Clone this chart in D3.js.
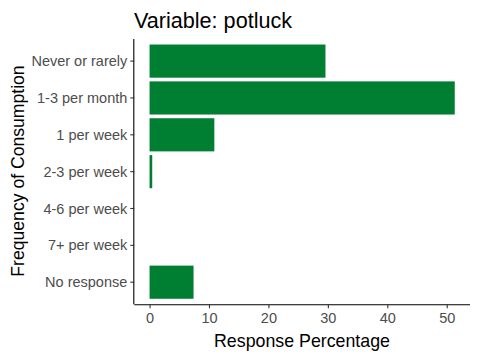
<!DOCTYPE html>
<html><head><meta charset="utf-8">
<script src="https://cdn.jsdelivr.net/npm/d3@7"></script>
<style>body{margin:0;background:#fff}svg{display:block}</style>
</head><body>
<svg id="c" width="480" height="360"></svg>
<script>
const categories = ["Never or rarely","1-3 per month","1 per week","2-3 per week","4-6 per week","7+ per week","No response"];
const values = [29.6, 51.35, 10.9, 0.45, 0, 0, 7.4];
const xTicks = [0, 10, 20, 30, 40, 50];
const title = "Variable: potluck";

(function () {
const svg = d3.select("#c");
const font = "Liberation Sans, Arial, sans-serif";
const pL = 134.3, pR = 470, pT = 39, pB = 304.3;

const maxV = d3.max(values);
const pad = maxV * 0.05;
const x = d3.scaleLinear().domain([0 - pad, maxV + pad]).range([pL, pR]);
const n = categories.length;
const step = (pB - pT) / (n - 1 + 1.2);
const y = d3.scaleBand().domain(categories)
  .range([pT + 0.1 * step, pB - 0.1 * step])
  .paddingInner(0.1).paddingOuter(0.05);

svg.append("g").selectAll("rect").data(categories).join("rect")
  .attr("x", x(0)).attr("y", d => y(d))
  .attr("width", (d, i) => x(values[i]) - x(0))
  .attr("height", y.bandwidth())
  .attr("fill", "#007F32");

const gx = svg.append("g").attr("transform", `translate(0,${pB})`)
  .call(d3.axisBottom(x).tickValues(xTicks).tickSize(4).tickPadding(3).tickSizeOuter(0));
const gy = svg.append("g").attr("transform", `translate(${pL},0)`)
  .call(d3.axisLeft(y).tickSize(4).tickPadding(3).tickSizeOuter(0));
[gx, gy].forEach(g => {
  g.select(".domain").attr("stroke", "#000").attr("stroke-width", 1.1);
  g.selectAll(".tick line").attr("stroke", "#333").attr("stroke-width", 1.1);
  g.selectAll(".tick text").attr("fill", "#4D4D4D").attr("font-size", 14.5).attr("font-family", font);
});
gx.selectAll(".tick text").attr("dy", "0.78em");
gy.selectAll(".tick text").attr("dy", "0.35em");
gx.select(".domain").attr("d", `M${pL},0.5H${pR}`);
gy.select(".domain").attr("d", `M-0.5,${pT}V${pB}`);

svg.append("text").attr("x", 302).attr("y", 347).attr("text-anchor", "middle")
  .attr("font-family", font).attr("font-size", 17.8).attr("fill", "#000").text("Response Percentage");
svg.append("text").attr("transform", "translate(24,171) rotate(-90)").attr("text-anchor", "middle")
  .attr("font-family", font).attr("font-size", 17.6).attr("fill", "#000").text("Frequency of Consumption");
svg.append("text").attr("x", 134).attr("y", 28)
  .attr("font-family", font).attr("font-size", 21.6).attr("fill", "#000").text(title);
})();
</script>
</body></html>
